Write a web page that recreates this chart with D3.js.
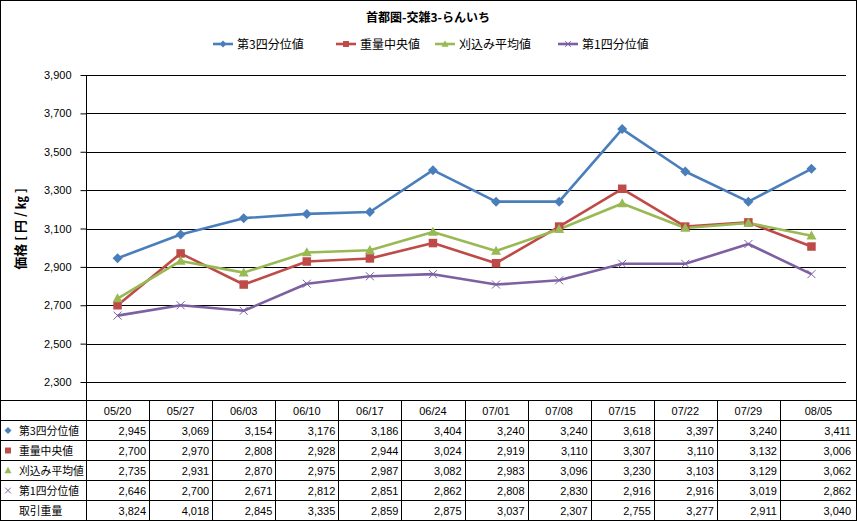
<!DOCTYPE html>
<html><head><meta charset="utf-8">
<script src="https://cdn.jsdelivr.net/npm/d3@7"></script>
<style>
html,body{margin:0;padding:0;background:#fff;}
svg{display:block;font-family:"Liberation Sans","Noto Sans CJK JP",sans-serif;}
.jp{font-family:"Noto Sans CJK JP",sans-serif;}
</style></head>
<body>
<svg id="c" width="857" height="521"></svg>
<script>
const categories = ["05/20","05/27","06/03","06/10","06/17","06/24","07/01","07/08","07/15","07/22","07/29","08/05"];
const q3      = [2945,3069,3154,3176,3186,3404,3240,3240,3618,3397,3240,3411];
const median  = [2700,2970,2808,2928,2944,3024,2919,3110,3307,3110,3132,3006];
const trimmed = [2735,2931,2870,2975,2987,3082,2983,3096,3230,3103,3129,3062];
const q1      = [2646,2700,2671,2812,2851,2862,2808,2830,2916,2916,3019,2862];
const volume  = [3824,4018,2845,3335,2859,2875,3037,2307,2755,3277,2911,3040];
const yTicks  = [2300,2500,2700,2900,3100,3300,3500,3700,3900];
const seriesNames = ["第3四分位値","重量中央値","刈込み平均値","第1四分位値"];
const volumeName = "取引重量";
const title = "首都圏-交雑3-らんいち";
const yLabel = "価格 [ 円 / ㎏ ]";

(function(){
const series = [
  {name: seriesNames[0], values: q3, color: "#4A7EBB", marker: "diamond"},
  {name: seriesNames[1], values: median, color: "#BE4B48", marker: "square"},
  {name: seriesNames[2], values: trimmed, color: "#98B954", marker: "triangle"},
  {name: seriesNames[3], values: q1, color: "#7D60A0", marker: "x"}
];

const svg = d3.select("#c");
const W = 857, H = 521;
const pLeft = 86, pRight = 843, pTop = 75, pBottom = 382;
const tableTop = 400.5, rowH = 20;

const x = d3.scaleBand().domain(categories).range([pLeft, pRight]);
const xc = d => x(d) + x.bandwidth()/2;
const y = d3.scaleLinear().domain([2300, 3900]).range([pBottom, pTop]);

svg.append("rect").attr("x",0.5).attr("y",0.5).attr("width",W-1).attr("height",H-1)
  .attr("fill","#fff").attr("stroke","#000").attr("stroke-width",1);

svg.append("text").attr("class","jp").attr("x",428).attr("y",22).attr("text-anchor","middle")
  .attr("font-size",12).attr("font-weight","bold").text(title);

svg.append("g").selectAll("line").data(yTicks).join("line")
  .attr("x1", pLeft).attr("x2", 846)
  .attr("y1", d => Math.round(y(d))+0.5).attr("y2", d => Math.round(y(d))+0.5)
  .attr("stroke","#000").attr("stroke-width",1);

const yAxis = d3.axisLeft(y).tickValues(yTicks).tickSize(6).tickPadding(9).tickFormat(d3.format(","));
const gy = svg.append("g").attr("transform",`translate(${pLeft+0.5},0)`).call(yAxis);
gy.select(".domain").remove();
gy.selectAll(".tick line").attr("stroke","#000");
gy.selectAll(".tick text").attr("font-size",11).attr("fill","#000").attr("font-family","Liberation Sans, sans-serif");
svg.append("line").attr("x1",pLeft+0.5).attr("x2",pLeft+0.5).attr("y1",pTop).attr("y2",tableTop)
  .attr("stroke","#000");

svg.append("text").attr("class","jp").attr("transform","translate(25,229) rotate(-90)")
  .attr("text-anchor","middle").attr("font-size",13).attr("font-weight","bold").text(yLabel);

function drawMarker(g, type, color, s) {
  if (type === "diamond") {
    g.append("path").attr("d", `M0,${-s}L${s},0L0,${s}L${-s},0Z`).attr("fill", color);
  } else if (type === "square") {
    g.append("rect").attr("x",-s*0.85).attr("y",-s*0.85).attr("width",s*1.7).attr("height",s*1.7).attr("fill",color);
  } else if (type === "triangle") {
    g.append("path").attr("d", `M0,${-s*1.05}L${s},${s*0.75}L${-s},${s*0.75}Z`).attr("fill", color);
  } else if (type === "x") {
    g.append("path").attr("d", `M${-s*0.8},${-s*0.8}L${s*0.8},${s*0.8}M${-s*0.8},${s*0.8}L${s*0.8},${-s*0.8}`)
      .attr("stroke", color).attr("stroke-width",1);
  }
}

const line = d3.line().x((d,i) => xc(categories[i])).y(d => y(d));
series.forEach(s => {
  svg.append("path").datum(s.values).attr("d", line).attr("fill","none")
    .attr("stroke", s.color).attr("stroke-width",2.6).attr("stroke-linejoin","round");
});
series.forEach(s => {
  s.values.forEach((v,i) => {
    const g = svg.append("g").attr("transform",`translate(${xc(categories[i])},${y(v)})`);
    drawMarker(g, s.marker, s.color, 5);
  });
});

const legendItems = [
  {x: 213, s: series[0]},
  {x: 336, s: series[1]},
  {x: 435, s: series[2]},
  {x: 558, s: series[3]}
];
legendItems.forEach(it => {
  const g = svg.append("g").attr("transform",`translate(${it.x},44)`);
  g.append("line").attr("x1",0).attr("x2",20).attr("y1",0).attr("y2",0).attr("stroke",it.s.color).attr("stroke-width",2.6);
  const m = g.append("g").attr("transform","translate(10,0)");
  drawMarker(m, it.s.marker, it.s.color, 3.5);
  g.append("text").attr("class","jp").attr("x",24).attr("y",4.5).attr("font-size",12).attr("fill","#000").text(it.s.name);
});

const tbl = svg.append("g");
const rows = 6;
for (let r = 0; r <= rows; r++) {
  const yy = tableTop + r*rowH;
  tbl.append("line").attr("x1",0).attr("x2",W).attr("y1",yy).attr("y2",yy).attr("stroke","#000");
}
const colEdges = [0, ...categories.map(c => x(c)), W-1];
colEdges.forEach(cx => {
  tbl.append("line").attr("x1",Math.round(cx)+0.5).attr("x2",Math.round(cx)+0.5)
    .attr("y1",tableTop).attr("y2",tableTop+rows*rowH).attr("stroke","#000");
});
categories.forEach((c,i) => {
  const cw = (i === categories.length-1) ? (W - x(c)) : x.bandwidth();
  tbl.append("text").attr("x", x(c)+cw/2).attr("y", tableTop+rowH/2+4).attr("text-anchor","middle")
    .attr("font-size",11).attr("fill","#000").text(c);
});
const rowData = [
  {name: seriesNames[0], values: q3, s: series[0]},
  {name: seriesNames[1], values: median, s: series[1]},
  {name: seriesNames[2], values: trimmed, s: series[2]},
  {name: seriesNames[3], values: q1, s: series[3]},
  {name: volumeName, values: volume, s: null}
];
const fmt = d3.format(",");
rowData.forEach((rd, r) => {
  const yy = tableTop + (r+1)*rowH;
  const cy = yy + rowH/2;
  if (rd.s) {
    const m = tbl.append("g").attr("transform",`translate(8,${cy})`);
    drawMarker(m, rd.s.marker, rd.s.color, 3.5);
  }
  tbl.append("text").attr("class","jp").attr("x",19).attr("y",cy+4).attr("font-size",10.8).attr("fill","#000").text(rd.name);
  rd.values.forEach((v,i) => {
    const cr = (i === categories.length-1) ? (W - 3) : x(categories[i]) + x.bandwidth();
    tbl.append("text").attr("x", cr-3).attr("y", cy+4).attr("text-anchor","end")
      .attr("font-size",11).attr("fill","#000").text(fmt(v));
  });
});
})();
</script>
</body></html>
